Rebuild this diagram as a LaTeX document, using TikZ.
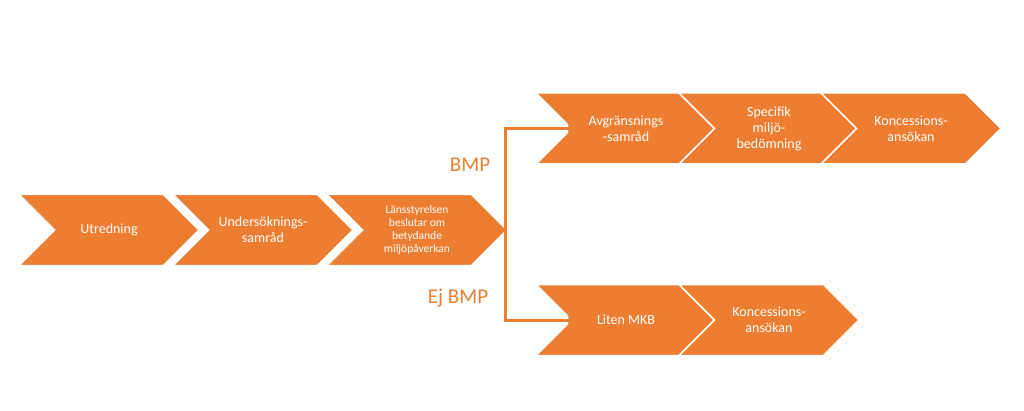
\documentclass[tikz,border=0pt]{standalone}
\usepackage{fontspec}
\setmainfont{Carlito}
\usetikzlibrary{shapes.symbols,arrows.meta}
\definecolor{org}{HTML}{ED7D31}
\begin{document}
\begin{tikzpicture}[x=1pt,y=1pt,
  chev/.style={signal, signal to=east, signal from=west, signal pointer angle=90,
    fill=org, draw=white, line width=1.5pt, minimum width=180pt, minimum height=71pt,
    inner sep=0pt, text=white, align=center, font=\fontsize{14}{16}\selectfont},
  small/.style={font=\fontsize{11.5}{13}\selectfont},
  lab/.style={text=org, font=\fontsize{21}{24}\selectfont},
  conn/.style={draw=org, line width=3pt, -{Triangle[length=8pt,width=10pt]}}]
\useasboundingbox (0,0) rectangle (1024,410);
\node[chev] (a) at (109,180) {Utredning};
\node[chev] (b) at (263,180) {Undersöknings-\\samråd};
\node[chev,small] (c) at (417,180) {Länsstyrelsen\\beslutar om\\betydande\\miljöpåverkan};
\node[chev] (d) at (626,281.5) {Avgränsnings\\-samråd};
\node[chev] (e) at (769,281.5) {Specifik\\miljö-\\bedömning};
\node[chev] (f) at (911,281.5) {Koncessions-\\ansökan};
\node[chev] (g) at (626,90) {Liten MKB};
\node[chev] (h) at (769,90) {Koncessions-\\ansökan};
\coordinate (j) at (505,180);
\draw[conn] (j) |- ([xshift=6pt]d.west);
\draw[conn] (j) |- ([xshift=6pt]g.west);
\node[lab] (bmp) at (470,245) {BMP};
\node[lab] (ej) at (458,112) {Ej BMP};
\end{tikzpicture}
\end{document}
